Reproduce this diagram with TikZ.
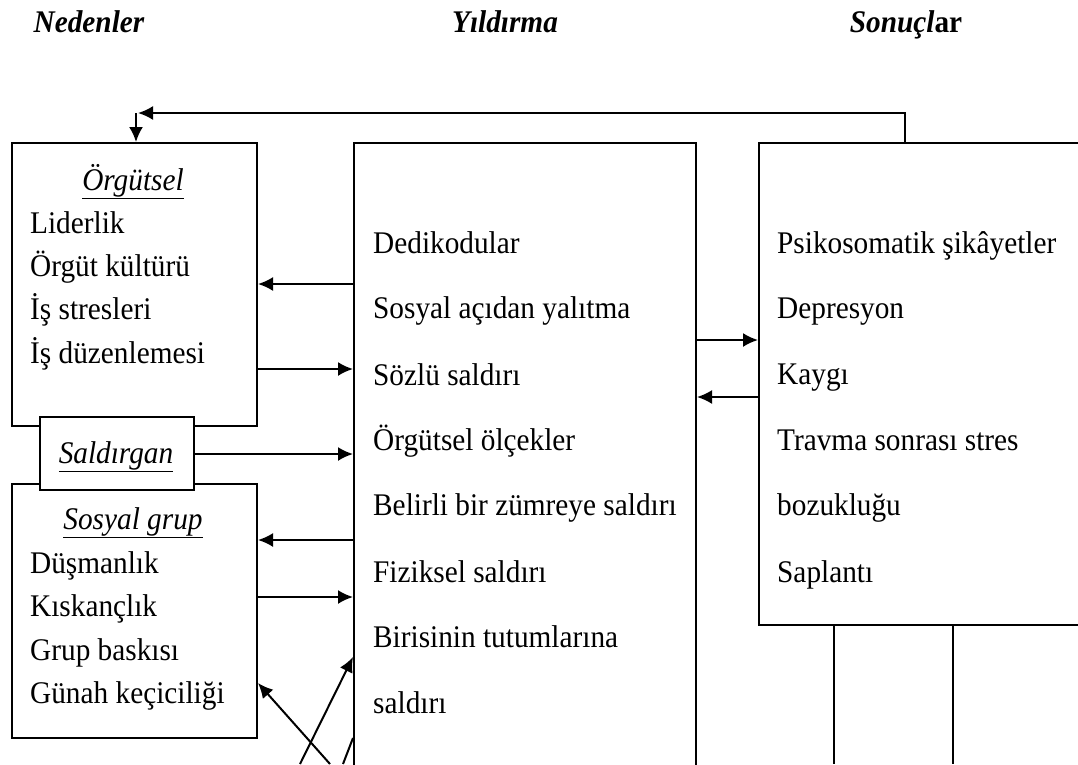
\documentclass[tikz,border=0pt]{standalone}
\usepackage{fontspec}
\setmainfont[FakeStretch=0.93]{Liberation Serif}
\usetikzlibrary{positioning,calc,arrows.meta}

\begin{document}
\begin{tikzpicture}[x=1pt,y=-1pt]
            \tikzstyle{kutu}=[draw, line width=2pt, anchor=north west,
            inner sep=0pt, fill=white]
            \tikzstyle{yazi}=[anchor=base west, inner sep=0pt,
            font=\fontsize{31.5}{37}\selectfont]
            \tikzstyle{baslik}=[anchor=base, inner sep=0pt,
            font=\fontsize{31.5}{37}\selectfont\bfseries\itshape]
            \tikzstyle{ok}=[line width=2pt, -{Latex[length=15pt,width=14pt]}]
            \useasboundingbox (0,0) rectangle (1078,764);
            \clip (0,0) rectangle (1078,764);
            % basliklar
            \node[baslik] (ned) at (89,32) {Nedenler};
            \node[baslik] (yil) at (505,32) {Y\i ld\i rma};
            \node[baslik] (snc) at (906,32) {Sonuçl\textup{ar}};
            % kutular
            \node[kutu, minimum width=245pt, minimum height=283pt] (org) at (11,142) {};
            \node[kutu, minimum width=245pt, minimum height=254pt] (sos) at (11,483) {};
            \node[kutu, minimum width=154pt, minimum height=73pt] (sal) at (39,416) {};
            \node[kutu, minimum width=342pt, minimum height=700pt] (mid) at (353,142) {};
            \node[kutu, minimum width=400pt, minimum height=482pt] (son) at (758,142) {};
            % nedenler
            \node[baslik, font=\fontsize{31.5}{37}\selectfont\itshape] (orgb) at (133,190) {\underline{Örgütsel}};
            \node[yazi] (o1) at (30,233) {Liderlik};
            \node[yazi] (o2) at (30,276) {Örgüt kültürü};
            \node[yazi] (o3) at (30,319) {İş stresleri};
            \node[yazi] (o4) at (30,363) {İş düzenlemesi};
            \node[baslik, font=\fontsize{31.5}{37}\selectfont\itshape] (salb) at (116,463) {\underline{Saldırgan}};
            \node[baslik, font=\fontsize{31.5}{37}\selectfont\itshape] (sosb) at (133,529) {\underline{Sosyal grup}};
            \node[yazi] (s1) at (30,573) {Düşmanlık};
            \node[yazi] (s2) at (30,616) {Kıskançlık};
            \node[yazi] (s3) at (30,660) {Grup baskısı};
            \node[yazi] (s4) at (30,703) {Günah keçiciliği};
            % yildirma
            \node[yazi] (m1) at (373,253) {Dedikodular};
            \node[yazi] (m2) at (373,318) {Sosyal açıdan yalıtma};
            \node[yazi] (m3) at (373,385) {Sözlü saldırı};
            \node[yazi] (m4) at (373,450) {Örgütsel ölçekler};
            \node[yazi] (m5) at (373,515) {Belirli bir zümreye saldırı};
            \node[yazi] (m6) at (373,582) {Fiziksel saldırı};
            \node[yazi] (m7) at (373,647) {Birisinin tutumlarına};
            \node[yazi] (m8) at (373,713) {saldırı};
            % sonuclar
            \node[yazi] (r1) at (777,253) {Psikosomatik şikâyetler};
            \node[yazi] (r2) at (777,318) {Depresyon};
            \node[yazi] (r3) at (777,384) {Kaygı};
            \node[yazi] (r4) at (777,450) {Travma sonrası stres};
            \node[yazi] (r5) at (777,515) {bozukluğu};
            \node[yazi] (r6) at (777,582) {Saplantı};
            % oklar
            \coordinate (y1) at (0,284);
            \coordinate (y2) at (0,369);
            \coordinate (y3) at (0,454);
            \coordinate (y4) at (0,540);
            \coordinate (y5) at (0,597);
            \coordinate (y6) at (0,340);
            \coordinate (y7) at (0,397);
            \path
            (mid.west |- y1) edge [ok] (org.east |- y1)
            (org.east |- y2) edge [ok] (mid.west |- y2)
            (sal.east |- y3) edge [ok] (mid.west |- y3)
            (mid.west |- y4) edge [ok] (sos.east |- y4)
            (sos.east |- y5) edge [ok] (mid.west |- y5)
            (mid.east |- y6) edge [ok] (son.west |- y6)
            (son.west |- y7) edge [ok] (mid.east |- y7);
            % geri besleme
            \coordinate (fb) at (905,113);
            \coordinate (fbuc) at (138,113);
            \coordinate (fbin) at (136,113);
            \draw[ok] (son.north -| fb) |- (fbuc);
            \path (fbin) edge [ok] (org.north -| fbin);
            % alttaki cizgiler
            \coordinate (a1) at (330,764);
            \coordinate (a2) at (300,764);
            \coordinate (a3) at (343,764);
            \coordinate (c1) at (0,683);
            \coordinate (c2) at (0,657);
            \coordinate (c3) at (0,738);
            \path
            (a1) edge [ok] (sos.east |- c1)
            (a2) edge [ok] (mid.west |- c2);
            \draw[line width=2pt] (a3) -- (mid.west |- c3);
            \coordinate (v1) at (834,764);
            \coordinate (v2) at (953,764);
            \draw[line width=2pt] (son.south -| v1) -- (v1)
            (son.south -| v2) -- (v2);
        \end{tikzpicture}
\end{document}
